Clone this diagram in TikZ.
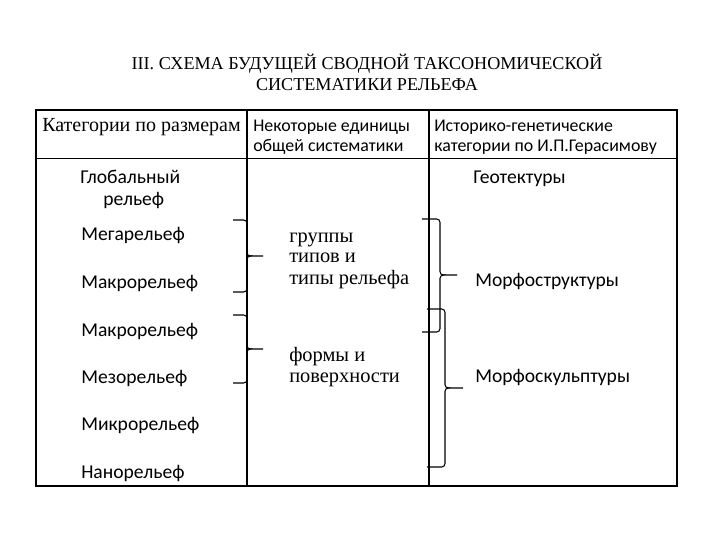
\documentclass[tikz,border=0pt]{standalone}
\usepackage{fontspec}
\setmainfont{Liberation Serif}
\newfontfamily\calfont{Carlito}
\usepackage{tikz}

\begin{document}
\begin{tikzpicture}[x=0.75pt,y=-0.75pt,
	every node/.style={inner sep=0pt,anchor=base west},
	sans/.style={font=\calfont\fontsize{14.7}{17}\selectfont},
	head/.style={font=\calfont\fontsize{13.4}{16}\selectfont},
	serif/.style={font=\fontsize{15.3}{18}\selectfont},
	brc/.style={line width=0.8pt,rounded corners=2.5pt}]
	\useasboundingbox (0,0) rectangle (720,540);
	% frame of the table
	\draw[line width=1pt] (36,110) rectangle (677,486);
	\draw[line width=1.4pt] (36,486) -- (677,486);
	\draw[line width=0.6pt] (36,158) -- (677,158);
	\draw[line width=0.8pt] (247,110) -- (247,486);
	\draw[line width=0.8pt] (429,110) -- (429,486);
	% title
	\node[anchor=base,font=\fontsize{13.6}{16}\selectfont] (title1) at (367,69) {III. СХЕМА БУДУЩЕЙ СВОДНОЙ ТАКСОНОМИЧЕСКОЙ};
	\node[anchor=base,font=\fontsize{13.6}{16}\selectfont] (title2) at (367,90) {СИСТЕМАТИКИ РЕЛЬЕФА};
	% headers
	\node[font=\fontsize{15}{17}\selectfont] (hsize) at (42,131) {Категории по размерам};
	\node[head] (hunit1) at (253,131) {Некоторые единицы};
	\node[head] (hunit2) at (253,151) {общей систематики};
	\node[head] (hgen1) at (434,131) {Историко-генетические};
	\node[head] (hgen2) at (434,151) {категории по И.П.Герасимову};
	% first column
	\node[sans] (glob1) at (80,183) {Глобальный};
	\node[sans] (glob2) at (103,205) {рельеф};
	\foreach \y/\name/\txt in {240/mega/Мегарельеф,288/makroa/Макрорельеф,336/makrob/Макрорельеф,383/mezo/Мезорельеф,430/mikro/Микрорельеф,478/nano/Нанорельеф}
		\node[sans] (\name) at (81,\y) {\txt};
	% second column
	\node[serif] (grp1) at (289,242) {группы};
	\node[serif] (grp2) at (289,262) {типов и};
	\node[serif] (grp3) at (289,284) {типы рельефа};
	\node[serif] (frm1) at (289,361) {формы и};
	\node[serif] (frm2) at (289,382) {поверхности};
	% third column
	\node[sans] (geot) at (473,183) {Геотектуры};
	\node[sans] (mstr) at (475,286) {Морфоструктуры};
	\node[sans] (mskl) at (475,382) {Морфоскульптуры};
	% braces
	\foreach \xl/\xv/\xt/\yt/\ym/\yb in {233/247/263/220/256/292, 233/247/263/315/349/383, 422/440/457/219/275/332, 427/445/463/309/388/467}{
		\draw[brc] (\xl,\yt) -- (\xv,\yt) -- (\xv,\ym) -- (\xt,\ym);
		\draw[brc] (\xv+3,\ym) -- (\xv,\ym) -- (\xv,\yb) -- (\xl,\yb);
	}
\end{tikzpicture}
\end{document}
